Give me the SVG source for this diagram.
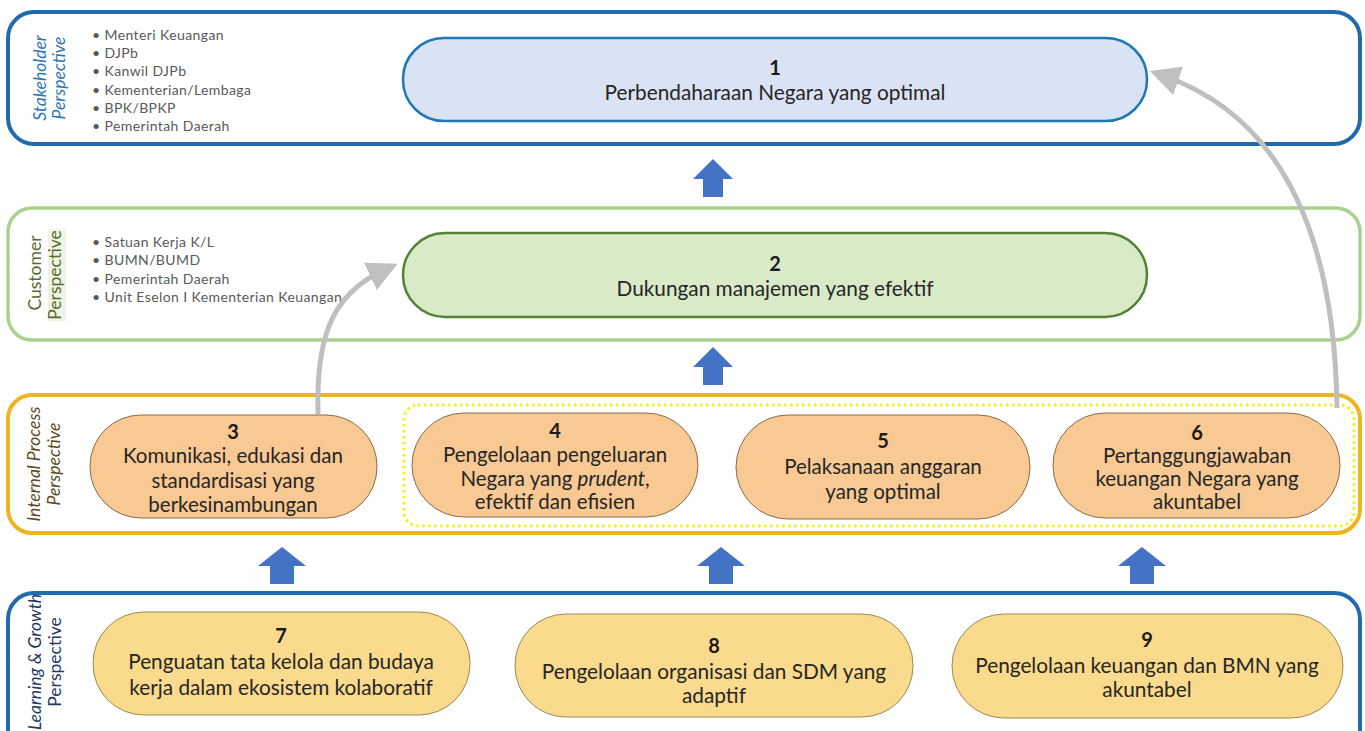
<svg xmlns="http://www.w3.org/2000/svg" width="1365" height="731" viewBox="0 0 1365 731">
<style>
text{font-family:Lato,"Liberation Sans",sans-serif;}
.band{fill:#fff;}
.lbl{font-size:17.5px;text-anchor:middle;}
.bul{font-size:14px;letter-spacing:0.4px;fill:#595959;}
.num{font-size:20px;font-weight:bold;fill:#1a1a1a;text-anchor:middle;}
.nt{font-size:20.5px;fill:#262626;text-anchor:middle;}
.big{font-size:20.8px;}
.ip{fill:#F8C993;stroke:#8C6A4A;stroke-width:1;}
.lg{fill:#FADA8C;stroke:#9C8A50;stroke-width:1;}
.up{fill:#4472C4;}
.con{fill:none;stroke:#BFBFBF;stroke-width:5;}
</style>
<defs>
<marker id="ah" markerWidth="6" markerHeight="6" refX="3" refY="3" orient="auto" markerUnits="strokeWidth">
<path d="M0,0 L6,3 L0,6 Z" fill="#BFBFBF"/>
</marker>
</defs>
<rect width="1365" height="731" fill="#fff"/>

<g id="band-stakeholder">
<rect x="8" y="12" width="1352" height="132" rx="26" class="band" stroke="#1F6BAE" stroke-width="4"/>
<text class="lbl" font-style="italic" fill="#2E75B6" transform="translate(46,78) rotate(-90)">Stakeholder</text>
<text class="lbl" font-style="italic" fill="#2E75B6" transform="translate(65,78) rotate(-90)">Perspective</text>
<text class="bul" x="92" y="40">• Menteri Keuangan</text>
<text class="bul" x="92" y="58">• DJPb</text>
<text class="bul" x="92" y="76">• Kanwil DJPb</text>
<text class="bul" x="92" y="95">• Kementerian/Lembaga</text>
<text class="bul" x="92" y="113">• BPK/BPKP</text>
<text class="bul" x="92" y="131">• Pemerintah Daerah</text>
</g>

<g id="band-customer">
<rect x="8" y="208" width="1352" height="132" rx="24" class="band" stroke="#A9D18E" stroke-width="3.5"/>
<rect x="48" y="229" width="18" height="92" fill="#EEF5E6"/>
<text class="lbl" fill="#596B2F" transform="translate(41,273) rotate(-90)">Customer</text>
<text class="lbl" fill="#596B2F" transform="translate(61,275) rotate(-90)">Perspective</text>
<text class="bul" x="92" y="247">• Satuan Kerja K/L</text>
<text class="bul" x="92" y="265">• BUMN/BUMD</text>
<text class="bul" x="92" y="284">• Pemerintah Daerah</text>
<text class="bul" x="92" y="302">• Unit Eselon I Kementerian Keuangan</text>
</g>

<g id="band-internal">
<rect x="8" y="395" width="1352" height="138" rx="24" class="band" stroke="#EDB520" stroke-width="4"/>
<text class="lbl" font-style="italic" fill="#5C4A1E" transform="translate(40,464) rotate(-90)">Internal  Process</text>
<text class="lbl" font-style="italic" fill="#5C4A1E" transform="translate(60,464) rotate(-90)">Perspective</text>
<rect id="group-456" x="404" y="405" width="950" height="121" rx="14" fill="none" stroke="#F2F21A" stroke-width="3" stroke-dasharray="2.5 3.5"/>
</g>

<g id="band-learning">
<rect x="8" y="593" width="1352" height="170" rx="26" class="band" stroke="#1F6BAE" stroke-width="4"/>
<text class="lbl" fill="#1F3864" font-style="italic" font-size="16" transform="translate(41,662) rotate(-90)">Learning &amp;  Growth</text>
<text class="lbl" fill="#1F3864" font-size="16" transform="translate(61,662) rotate(-90)">Perspective</text>
</g>

<g id="node-1">
<rect x="403" y="38" width="744" height="83" rx="41" fill="#DAE3F3" stroke="#1F78B4" stroke-width="2.5"/>
<text class="num" x="775" y="75">1</text>
<text class="nt big" x="775" y="100">Perbendaharaan Negara yang optimal</text>
</g>

<g id="node-2">
<rect x="403" y="233" width="744" height="84" rx="42" fill="#D9EAC8" stroke="#548235" stroke-width="2.5"/>
<text class="num" x="775" y="271">2</text>
<text class="nt big" x="775" y="296">Dukungan manajemen yang efektif</text>
</g>

<g id="node-3">
<rect x="90" y="415" width="287" height="103" rx="51" class="ip"/>
<text class="num" x="233" y="439">3</text>
<text class="nt" x="233" y="463">Komunikasi, edukasi dan</text>
<text class="nt" x="233" y="488">standardisasi yang</text>
<text class="nt" x="233" y="512">berkesinambungan</text>
</g>

<g id="node-4">
<rect x="412" y="413" width="286" height="104" rx="52" class="ip"/>
<text class="num" x="555" y="438">4</text>
<text class="nt" x="555" y="462">Pengelolaan pengeluaran</text>
<text class="nt" x="555" y="486">Negara yang <tspan font-style="italic">prudent</tspan>,</text>
<text class="nt" x="555" y="509">efektif dan efisien</text>
</g>

<g id="node-5">
<rect x="736" y="415" width="294" height="104" rx="52" class="ip"/>
<text class="num" x="883" y="448">5</text>
<text class="nt" x="883" y="474">Pelaksanaan anggaran</text>
<text class="nt" x="883" y="499">yang optimal</text>
</g>

<g id="node-6">
<rect x="1053" y="413" width="287" height="105" rx="52" class="ip"/>
<text class="num" x="1197" y="440">6</text>
<text class="nt" x="1197" y="463" font-size="21">Pertanggungjawaban</text>
<text class="nt" x="1197" y="486" font-size="21">keuangan Negara yang</text>
<text class="nt" x="1197" y="509" font-size="21">akuntabel</text>
</g>

<g id="node-7">
<rect x="93" y="612" width="377" height="103" rx="51" class="lg"/>
<text class="num" x="281" y="643">7</text>
<text class="nt big" x="281" y="669">Penguatan tata kelola dan budaya</text>
<text class="nt big" x="281" y="695">kerja dalam ekosistem kolaboratif</text>
</g>

<g id="node-8">
<rect x="515" y="614" width="398" height="103" rx="51" class="lg"/>
<text class="num" x="714" y="653">8</text>
<text class="nt big" x="714" y="679">Pengelolaan organisasi dan SDM yang</text>
<text class="nt big" x="714" y="703">adaptif</text>
</g>

<g id="node-9">
<rect x="952" y="614" width="391" height="104" rx="52" class="lg"/>
<text class="num" x="1147" y="647">9</text>
<text class="nt big" x="1147" y="673">Pengelolaan keuangan dan BMN yang</text>
<text class="nt big" x="1147" y="697">akuntabel</text>
</g>

<g id="connectors">
<path class="up" d="M713,159 L733,179 L723,179 L723,197 L703,197 L703,179 L693,179 Z"/>
<path class="up" d="M713,347 L733,367 L723,367 L723,385 L703,385 L703,367 L693,367 Z"/>
<path class="up" d="M282,547 L306,566 L294,566 L294,584 L270,584 L270,566 L258,566 Z"/>
<path class="up" d="M721,547 L745,566 L733,566 L733,584 L709,584 L709,566 L697,566 Z"/>
<path class="up" d="M1142,547 L1166,566 L1154,566 L1154,584 L1130,584 L1130,566 L1118,566 Z"/>
<path class="con" d="M318,414 C316,340 330,295 384,270" marker-end="url(#ah)"/>
<path class="con" d="M1337,408 C1335,250 1290,120 1164,76" marker-end="url(#ah)"/>
</g>
</svg>
